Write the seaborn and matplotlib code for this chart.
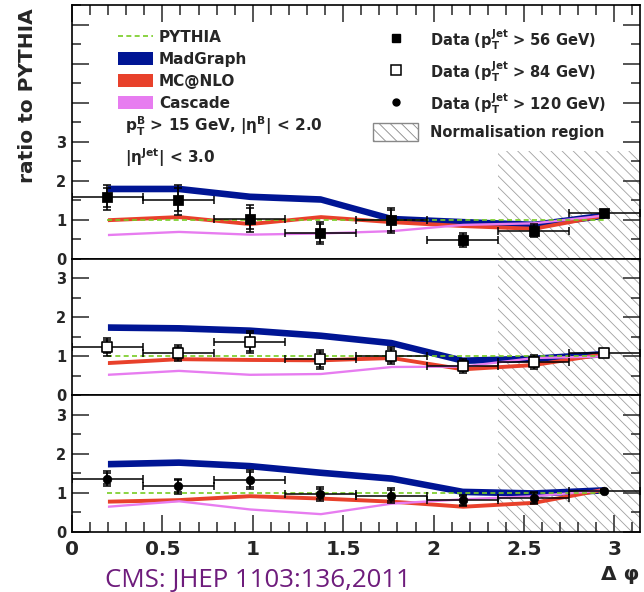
import numpy as np
import matplotlib
matplotlib.use("Agg")
import matplotlib.pyplot as plt
from matplotlib.lines import Line2D
from matplotlib.patches import Patch
from matplotlib.ticker import FixedLocator, MultipleLocator, FixedFormatter
import seaborn as sns

# ---------------------------------------------------------------- data
# bin centres in delta phi (8 bins of width pi/8)
dphi = [0.196, 0.589, 0.982, 1.374, 1.767, 2.160, 2.553, 2.945]
half_bin = np.pi / 16
norm_start = 3 * np.pi / 4           # normalisation region: 3pi/4 .. pi
norm_top = [2.75, 3.5, 3.5]          # upper edge of the hatched region per panel

# pT(jet) > 56 GeV
data56 = [1.57, 1.51, 1.03, 0.66, 0.98, 0.48, 0.72, 1.16]
tot56 = [0.33, 0.38, 0.35, 0.29, 0.33, 0.17, 0.16, 0.08]
stat56 = [0.25, 0.29, 0.28, 0.22, 0.27, 0.12, 0.11, 0.05]
madgraph56 = [1.80, 1.80, 1.60, 1.53, 1.03, 0.95, 0.88, 1.12]
mcnlo56 = [1.00, 1.08, 0.90, 1.08, 0.95, 0.85, 0.78, 1.12]
cascade56 = [0.62, 0.70, 0.63, 0.66, 0.72, 0.88, 0.92, 1.12]

# pT(jet) > 84 GeV
data84 = [1.25, 1.08, 1.37, 0.92, 1.02, 0.75, 0.85, 1.08]
tot84 = [0.23, 0.20, 0.29, 0.25, 0.21, 0.17, 0.18, 0.03]
stat84 = [0.17, 0.15, 0.24, 0.19, 0.16, 0.13, 0.13, 0.02]
madgraph84 = [1.75, 1.73, 1.67, 1.54, 1.35, 0.90, 0.95, 1.07]
mcnlo84 = [0.84, 0.94, 0.92, 0.91, 0.97, 0.68, 0.79, 1.07]
cascade84 = [0.54, 0.64, 0.54, 0.56, 0.74, 0.75, 0.97, 1.01]

# pT(jet) > 120 GeV
data120 = [1.37, 1.17, 1.34, 0.97, 0.93, 0.81, 0.87, 1.06]
tot120 = [0.20, 0.20, 0.24, 0.18, 0.19, 0.15, 0.16, 0.03]
stat120 = [0.15, 0.15, 0.19, 0.13, 0.14, 0.11, 0.12, 0.02]
madgraph120 = [1.75, 1.79, 1.70, 1.53, 1.38, 1.04, 1.00, 1.08]
mcnlo120 = [0.79, 0.83, 0.93, 0.87, 0.79, 0.66, 0.76, 1.10]
cascade120 = [0.66, 0.80, 0.59, 0.47, 0.74, 0.85, 0.93, 1.08]

pythia = [1.0, 1.0, 1.0, 1.0, 1.0, 1.0, 1.0, 1.0]

# half widths of the generator bands
madgraph_hw = 0.085
mcnlo_hw = 0.05
cascade_hw = 0.03

model_labels = ["PYTHIA", "MadGraph", "MC@NLO", "Cascade"]
data_labels = [r"Data ($p_T^{Jet}$ > 56 GeV)",
               r"Data ($p_T^{Jet}$ > 84 GeV)",
               r"Data ($p_T^{Jet}$ > 120 GeV)",
               "Normalisation region"]
xtick_values = [0, 0.5, 1, 1.5, 2, 2.5, 3]
xtick_labels = ["0", "0.5", "1", "1.5", "2", "2.5", "3"]
ytick_values = [0, 1, 2, 3]
ytick_labels = ["0", "1", "2", "3"]

# ---------------------------------------------------------------- style
sns.set_theme(style="ticks")
plt.rcParams["font.family"] = ["DejaVu Sans"]
plt.rcParams["font.weight"] = "bold"
plt.rcParams["mathtext.fontset"] = "dejavusans"
plt.rcParams["mathtext.default"] = "bf"
plt.rcParams["hatch.linewidth"] = 0.6
plt.rcParams["axes.linewidth"] = 1.2
plt.rcParams["axes.edgecolor"] = "black"

c_madgraph = "#001594"
c_mcnlo = "#e8412b"
c_cascade = "#e77cf0"
c_pythia = "#77cc22"
c_hatch = "#a0a0a0"
hatch = "\\" * 3

fig = plt.figure(figsize=(6.44, 5.92), dpi=100)
gs = fig.add_gridspec(3, 1, left=72 / 644, right=640 / 644,
                      top=1 - 5 / 592, bottom=1 - 532 / 592,
                      height_ratios=[6.5, 3.5, 3.5], hspace=0)
axes = [fig.add_subplot(gs[i]) for i in range(3)]

panels = [
    (data56, tot56, stat56, madgraph56, mcnlo56, cascade56,
     dict(marker="s", color="black", edgecolor="black", s=48)),
    (data84, tot84, stat84, madgraph84, mcnlo84, cascade84,
     dict(marker="s", color="white", edgecolor="black", s=56, linewidth=1.2)),
    (data120, tot120, stat120, madgraph120, mcnlo120, cascade120,
     dict(marker="o", color="black", edgecolor="black", s=38)),
]

for i, (ax, (dat, tot, stat, mg, mc, cas, mstyle)) in enumerate(zip(axes, panels)):
    x = np.array(dphi)
    # normalisation region
    ax.fill_between([norm_start, np.pi], 0, norm_top[i], facecolor="none",
                    edgecolor=c_hatch, hatch=hatch, linewidth=0, zorder=0)
    # generator bands
    for vals, hw, col in ((mg, madgraph_hw, c_madgraph),
                          (mc, mcnlo_hw, c_mcnlo),
                          (cas, cascade_hw, c_cascade)):
        v = np.array(vals)
        ax.fill_between(x, v - hw, v + hw, color=col, linewidth=0, zorder=2)
    sns.lineplot(x=dphi, y=pythia, ax=ax, color=c_pythia, linewidth=1.2,
                 linestyle=(0, (3, 2)), zorder=3)
    # data with total and statistical uncertainties
    ax.errorbar(dphi, dat, xerr=half_bin, yerr=tot, fmt="none", ecolor="black",
                elinewidth=1.1, capsize=3.2, capthick=1.1, zorder=4)
    ax.errorbar(dphi, dat, yerr=stat, fmt="none", ecolor="black",
                elinewidth=1.1, capsize=3.2, capthick=1.1, zorder=4)
    sns.scatterplot(x=dphi, y=dat, ax=ax, zorder=5, legend=False, **mstyle)

    ax.set_xlim(0, np.pi)
    ax.set_ylim(0, 6.5 if i == 0 else 3.5)
    ax.set_xlabel("")
    ax.set_ylabel("")
    ymax = 6 if i == 0 else 3
    ax.yaxis.set_major_locator(FixedLocator(list(range(0, ymax + 1))))
    ax.yaxis.set_major_formatter(FixedFormatter(ytick_labels + [""] * (ymax - 3)))
    ax.yaxis.set_minor_locator(MultipleLocator(0.5))
    ax.xaxis.set_major_locator(FixedLocator(xtick_values))
    ax.xaxis.set_minor_locator(MultipleLocator(0.1))
    ax.tick_params(axis="y", which="both", direction="in", left=True, right=True,
                   labelsize=10.5, pad=4)
    ax.tick_params(axis="y", which="major", length=12.5, width=1.1)
    ax.tick_params(axis="y", which="minor", length=6.5, width=1.1)
    ax.tick_params(axis="x", which="both", direction="in", width=1.1,
                   top=(i == 0), bottom=(i == 2), labelbottom=(i == 2),
                   labeltop=False, labelsize=14.5, pad=6)
    ax.tick_params(axis="x", which="major", length=12.5)
    ax.tick_params(axis="x", which="minor", length=7)
    if i == 2:
        ax.xaxis.set_major_formatter(FixedFormatter(xtick_labels))
    for lab in ax.get_xticklabels() + ax.get_yticklabels():
        lab.set_fontweight("bold")
    for sp in ax.spines.values():
        sp.set_visible(True)
        sp.set_linewidth(1.2)
        sp.set_color("black")

# ---------------------------------------------------------------- legends
top = axes[0]
model_handles = [
    Line2D([], [], color=c_pythia, linestyle=(0, (3, 2)), linewidth=1.2),
    Patch(facecolor=c_madgraph, edgecolor="none"),
    Patch(facecolor=c_mcnlo, edgecolor="none"),
    Patch(facecolor=c_cascade, edgecolor="none"),
]
leg1 = top.legend(model_handles, model_labels, loc="upper left",
                  bbox_to_anchor=(118 / 644, 1 - 30 / 592),
                  bbox_transform=fig.transFigure, frameon=False,
                  borderpad=0, borderaxespad=0, handlelength=2.29,
                  handleheight=0.98, handletextpad=0.4, labelspacing=0.45,
                  prop=dict(weight="bold", size=11))
top.add_artist(leg1)

data_handles = [
    Line2D([], [], marker="s", color="black", linestyle="none", markersize=6),
    Line2D([], [], marker="s", markerfacecolor="white", markeredgecolor="black",
           markeredgewidth=1.1, linestyle="none", markersize=7),
    Line2D([], [], marker="o", color="black", linestyle="none", markersize=5),
    Patch(facecolor="white", edgecolor="#888888", hatch=hatch, linewidth=1.0),
]
leg2 = top.legend(data_handles, data_labels, loc="upper left",
                  bbox_to_anchor=(373 / 644, 1 - 27 / 592),
                  bbox_transform=fig.transFigure, frameon=False,
                  borderpad=0, borderaxespad=0, handlelength=3.1,
                  handleheight=1.55, handletextpad=0.8, labelspacing=0.5,
                  prop=dict(weight="bold", size=10.5))

fig.text(125 / 644, 1 - 131.5 / 592, r"$p_T^B$ > 15 GeV, |$\eta^B$| < 2.0",
         ha="left", va="baseline", fontsize=11, fontweight="bold")
fig.text(125 / 644, 1 - 163 / 592, r"|$\eta^{Jet}$| < 3.0",
         ha="left", va="baseline", fontsize=11, fontweight="bold")

# ---------------------------------------------------------------- axis titles
fig.text(28 / 644, 1 - 8 / 592, "ratio to PYTHIA", rotation=90, ha="center",
         va="top", fontsize=14.5, fontweight="bold")
fig.text(620 / 644, 1 - 574 / 592, "Δ φ", ha="center", va="center",
         fontsize=14.5, fontweight="bold")
fig.text(105 / 644, 1 - 587 / 592, "CMS: JHEP 1103:136,2011", ha="left",
         va="baseline", fontsize=18.6, fontweight="normal", color="#6e1c7c",
         family=["Open Sans", "DejaVu Sans"])

fig.savefig("out.png", dpi=100)
